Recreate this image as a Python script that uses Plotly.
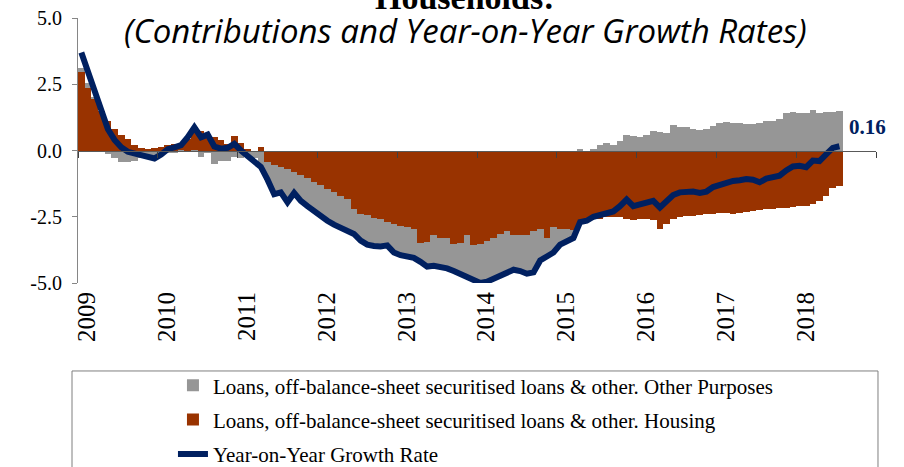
import numpy as np
import pandas as pd
import plotly.graph_objects as go

# ---- data (monthly, Jan 2009 - Jul 2018) ----
months = pd.date_range("2009-01-01", periods=115, freq="MS")

housing = [
    2.95, 2.35, 1.95, 1.5, 1.1, 0.83, 0.6, 0.42, 0.2, 0.11, 0.07, 0.1,
    0.15, 0.22, 0.26, 0.28, 0.45, 0.8, 0.72, 0.62, 0.5, 0.4, 0.26, 0.53,
    0.28, 0.07, 0.0, 0.12, -0.44, -0.53, -0.63, -0.69, -0.82, -0.94, -1.03, -1.2,
    -1.32, -1.45, -1.55, -1.7, -1.82, -2.19, -2.38, -2.42, -2.53, -2.6, -2.68, -2.77,
    -2.83, -2.9, -2.96, -3.5, -3.46, -3.2, -3.29, -3.29, -3.52, -3.5, -3.17, -3.58,
    -3.52, -3.4, -3.3, -3.14, -3.04, -3.2, -3.17, -3.17, -3.02, -2.96, -3.3, -2.9,
    -2.96, -2.96, -3.0, -2.72, -2.62, -2.55, -2.57, -2.52, -2.52, -2.52, -2.57, -2.64,
    -2.57, -2.57, -2.64, -2.96, -2.77, -2.57, -2.52, -2.49, -2.49, -2.45, -2.39, -2.39,
    -2.36, -2.36, -2.39, -2.36, -2.33, -2.3, -2.24, -2.22, -2.2, -2.18, -2.16, -2.12,
    -2.11, -2.08, -2.03, -1.9, -1.72, -1.4, -1.35,
]

other = [
    0.15, 0.2, 0.05, 0.0, -0.15, -0.3, -0.45, -0.45, -0.38, -0.3, -0.25, -0.19,
    -0.15, -0.08, -0.08, -0.05, 0.0, -0.05, -0.25, -0.08, -0.5, -0.38, -0.38, -0.25,
    -0.3, -0.25, -0.3, -0.6, -0.66, -1.12, -0.95, -1.26, -0.78, -0.96, -1.07, -1.1,
    -1.18, -1.2, -1.25, -1.2, -1.23, -0.96, -1.02, -1.13, -1.07, -1.02, -0.9, -1.08,
    -1.12, -1.1, -1.09, -0.7, -0.92, -1.15, -1.09, -1.16, -1.03, -1.15, -1.58, -1.27,
    -1.48, -1.55, -1.55, -1.58, -1.58, -1.3, -1.38, -1.48, -1.58, -1.19, -0.7, -0.95,
    -0.59, -0.49, -0.3, 0.02, -0.03, 0.05, 0.19, 0.28, 0.19, 0.35, 0.6, 0.53,
    0.5, 0.6, 0.75, 0.69, 0.65, 0.98, 0.9, 0.9, 0.82, 0.78, 0.82, 0.94,
    1.03, 1.07, 1.03, 1.03, 1.0, 1.0, 1.03, 1.1, 1.1, 1.19, 1.41, 1.45,
    1.41, 1.41, 1.51, 1.41, 1.45, 1.45, 1.48,
]

growth = [
    3.7, 2.95, 2.25, 1.5, 0.8, 0.4, 0.12, -0.05, -0.12, -0.2, -0.25, -0.3,
    -0.15, 0.05, 0.12, 0.2, 0.5, 0.87, 0.5, 0.6, 0.15, 0.07, 0.1, 0.25,
    0.0, -0.2, -0.35, -0.62, -1.1, -1.65, -1.58, -1.95, -1.6, -1.9, -2.1, -2.3,
    -2.5, -2.65, -2.8, -2.9, -3.05, -3.15, -3.4, -3.55, -3.6, -3.62, -3.58, -3.85,
    -3.95, -4.0, -4.05, -4.2, -4.38, -4.35, -4.38, -4.45, -4.55, -4.65, -4.75, -4.85,
    -5.0, -4.95, -4.85, -4.72, -4.62, -4.5, -4.55, -4.65, -4.6, -4.15, -4.0, -3.85,
    -3.55, -3.45, -3.3, -2.7, -2.65, -2.5, -2.42, -2.35, -2.3, -2.1, -1.85, -2.1,
    -2.05, -2.0, -1.9, -2.15, -1.9, -1.68, -1.58, -1.55, -1.55, -1.6, -1.55, -1.38,
    -1.3, -1.25, -1.15, -1.12, -1.08, -1.1, -1.2, -1.06, -1.02, -0.95, -0.75, -0.6,
    -0.58, -0.63, -0.38, -0.4, -0.15, 0.1, 0.16,
]

year_labels = [str(y) for y in range(2009, 2019)]
y_tick_vals = [-5.0, -2.5, 0.0, 2.5, 5.0]
y_tick_text = ["-5.0", "-2.5", "0.0", "2.5", "5.0"]

name_other = "Loans, off-balance-sheet securitised loans & other. Other Purposes"
name_housing = "Loans, off-balance-sheet securitised loans & other. Housing"
name_growth = "Year-on-Year Growth Rate"

# ---- positions derived from the month index ----
x = np.arange(len(months))
jan_idx = np.where(months.month == 1)[0]
x_range = [-0.5, 119.5]
boundary_ticks = [-0.5 + 12 * k for k in range(11)]
label_ticks = list(jan_idx + 0.9)

SERIF = "Liberation Serif, Times New Roman, serif"
NAVY = "#002060"

fig = go.Figure()
fig.add_trace(go.Bar(x=x, y=housing, name=name_housing, marker=dict(color="#993300", line=dict(width=0)),
                     legendrank=2, legendgroup="g2"))
fig.add_trace(go.Bar(x=x, y=other, name=name_other, marker=dict(color="#969696", line=dict(width=0)),
                     legendrank=1, legendgroup="g1"))
fig.add_trace(go.Scatter(x=x, y=growth, name=name_growth, mode="lines", xaxis="x2", yaxis="y",
                         line=dict(color=NAVY, width=6), legendrank=3, legendgroup="g3"))

fig.add_annotation(x=x[-1], y=growth[-1], xref="x2", yref="y", text="<b>%.2f</b>" % growth[-1],
                   showarrow=False, xanchor="left", yanchor="middle", xshift=8, yshift=19,
                   font=dict(family=SERIF, size=21, color=NAVY))

# titles
fig.add_annotation(x=0.485, y=1.078, xref="paper", yref="paper", text="<b>Households:</b>",
                   showarrow=False, xanchor="center", yanchor="middle",
                   font=dict(family=SERIF, size=34, color="black"))
fig.add_annotation(x=0.485, y=0.951, xref="paper", yref="paper",
                   text="<i>(Contributions and Year-on-Year Growth Rates)</i>",
                   showarrow=False, xanchor="center", yanchor="middle",
                   font=dict(family="Open Sans, sans-serif", size=33, color="black"))

# legend frame
fig.add_shape(type="rect", xref="paper", yref="paper", x0=-0.0075, x1=1.0025, y0=-0.75, y1=-0.332,
              line=dict(color="#7f7f7f", width=1), fillcolor="rgba(0,0,0,0)", layer="above")

fig.update_layout(
    width=904, height=467,
    margin=dict(l=78, r=28, t=18, b=184, autoexpand=False),
    paper_bgcolor="white", plot_bgcolor="white",
    barmode="relative", bargap=0,
    showlegend=True,
    legend=dict(x=0.119, y=-0.31, xanchor="left", yanchor="top", orientation="v",
                traceorder="grouped", tracegroupgap=4, bgcolor="rgba(0,0,0,0)",
                font=dict(family=SERIF, size=21, color="black"), borderwidth=0),
    xaxis=dict(range=x_range, tickmode="array", tickvals=label_ticks, ticktext=year_labels,
               tickangle=-90, ticks="", showline=False, showgrid=False, zeroline=False,
               automargin=False, ticklabelstandoff=3,
               tickfont=dict(family=SERIF, size=25, color="black")),
    xaxis2=dict(range=x_range, overlaying="x", anchor="free", position=0.5, side="bottom",
                tickmode="array", tickvals=boundary_ticks, ticks="outside", ticklen=6,
                tickcolor="#404040", tickwidth=1, showticklabels=False, showline=True,
                linecolor="#595959", linewidth=1.3, showgrid=False, zeroline=False),
    yaxis=dict(range=[-5, 5], tickmode="array", tickvals=y_tick_vals, ticktext=y_tick_text,
               ticks="outside", ticklen=5, tickcolor="#868686", showline=True, linecolor="#868686",
               linewidth=1, showgrid=False, zeroline=False, ticklabelstandoff=6, automargin=False,
               tickfont=dict(family=SERIF, size=20, color="black")),
)

fig.write_html("out.html", config={"displayModeBar": False},
               post_script="document.body.style.margin='0';document.body.style.overflow='hidden';")
